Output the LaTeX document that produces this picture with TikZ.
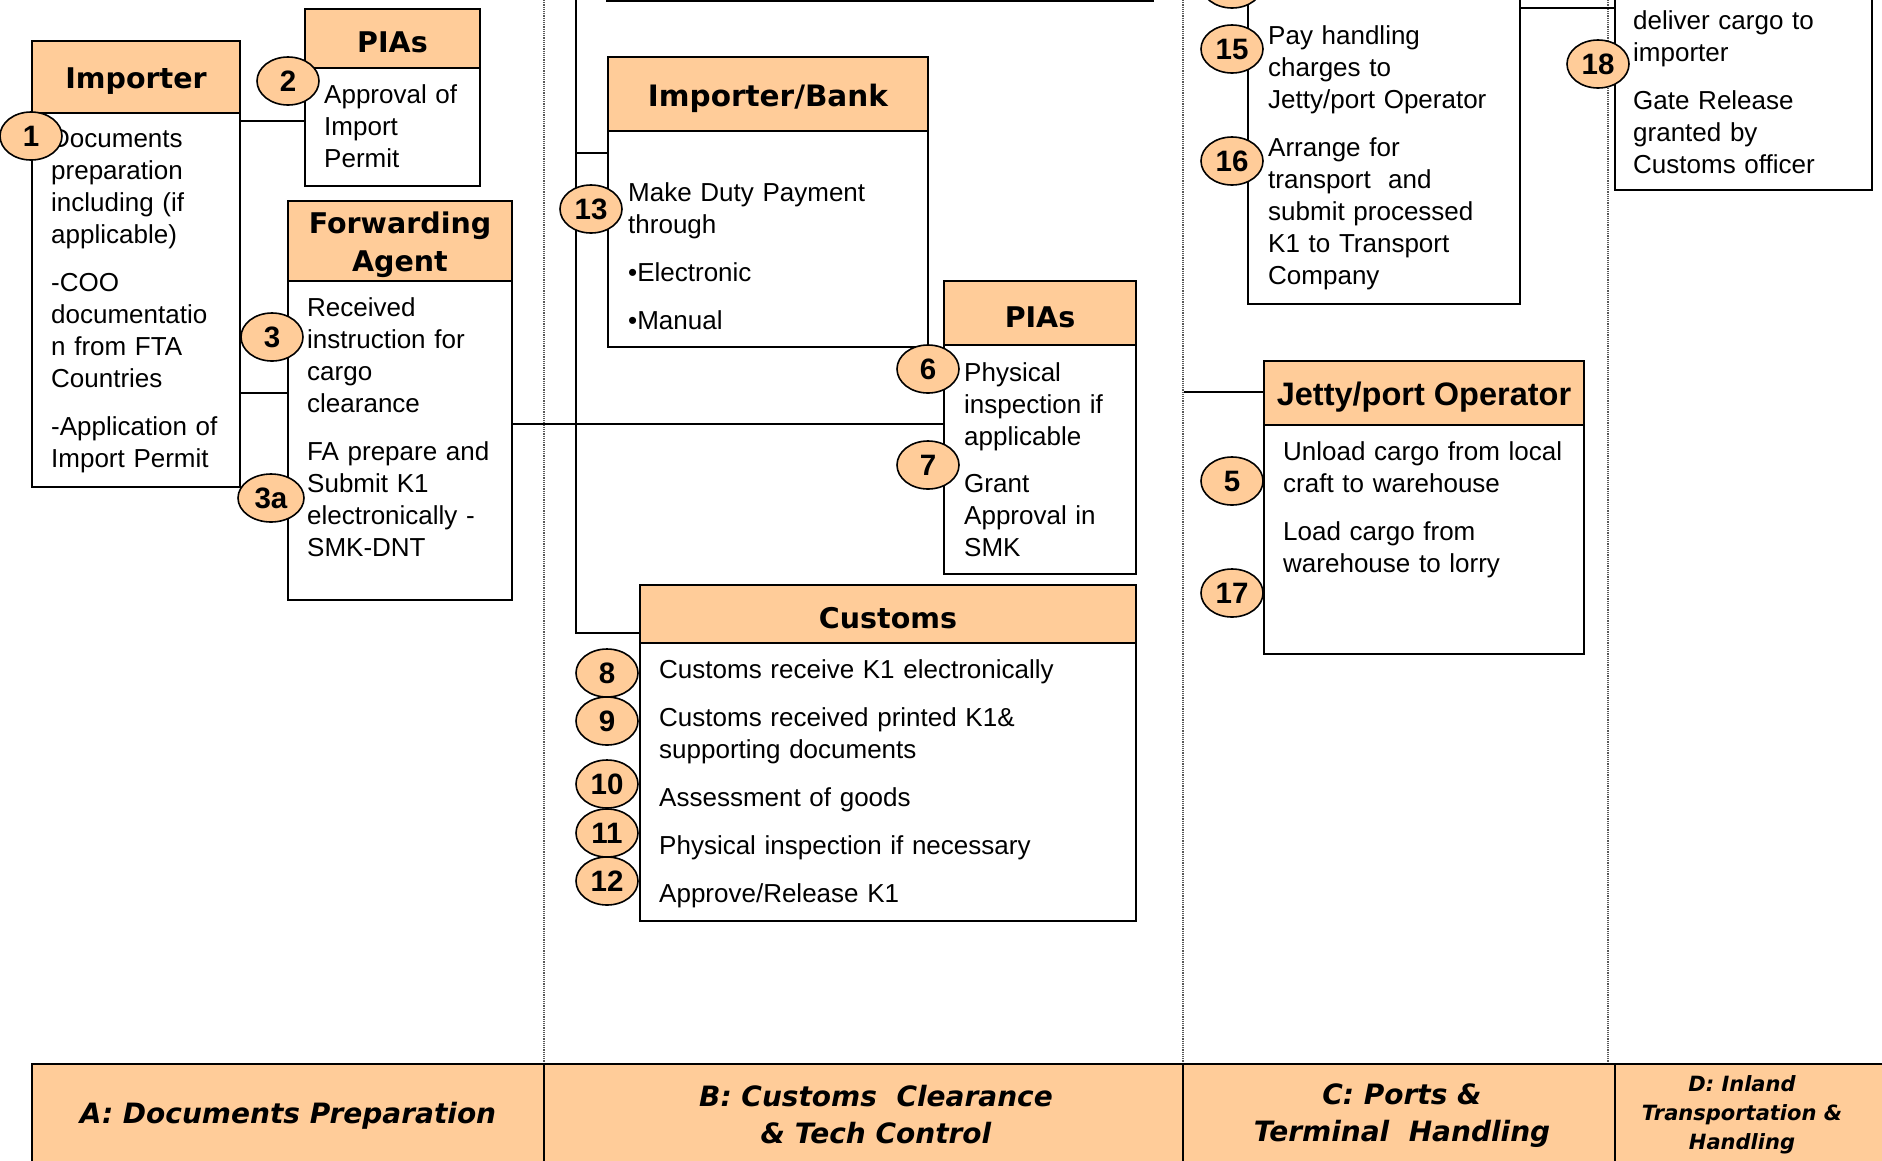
\documentclass[tikz,border=0pt]{standalone}
\usepackage{fontspec}
\setmainfont{Liberation Sans}
\newfontfamily\headfont{DejaVu Sans}
\usepackage{tikz}
\usetikzlibrary{shapes.geometric}
\definecolor{peach}{HTML}{FFCC99}
\tikzset{
	frame/.style={draw=black, line width=2pt, fill=white, anchor=north west, outer sep=0pt, inner sep=0pt},
	head/.style={draw=black, line width=2pt, fill=peach, anchor=north, outer sep=0pt, inner sep=0pt},
	title/.style={align=center, inner sep=0pt, font=\headfont\bfseries\fontsize{28.5}{38}\selectfont},
	note/.style={anchor=base west, inner sep=0pt, align=left, text width=470pt,
		font=\fontsize{26}{32}\selectfont},
	tag/.style={ellipse, draw=black, line width=1.6pt, fill=peach, minimum width=62pt,
		minimum height=48pt, inner sep=0pt, font=\bfseries\fontsize{29.5}{30}\selectfont},
	link/.style={draw=black, line width=1.8pt},
	lane/.style={draw=black!65, line width=1.2pt, densely dotted},
	band/.style={draw=black, line width=1.5pt, fill=peach, anchor=north west, outer sep=0pt,
		minimum height=110pt},
	bandtext/.style={align=center, font=\headfont\bfseries\itshape\fontsize{28}{37}\selectfont}
}
\def\RoleBox#1#2#3#4#5#6#7{%
	\node[frame, minimum width=#4pt, minimum height=#5pt] (#1) at (#2,#3) {};
	\node[head, minimum width=#4pt, minimum height=#6pt] (#1Head) at (#1.north) {};
	\node[title] (#1Title) at ([yshift=-4pt]#1Head.center) {#7};
}
\def\Tag#1#2#3{%
	\node[tag] (tag#1) at (#2,#3) {#1};
}
\begin{document}
\begin{tikzpicture}[x=1pt, y=-1pt]
\useasboundingbox (0,0) rectangle (1882,1160);
\foreach \x in {544,1183,1608}
	\draw[lane] (\x,0) -- (\x,1063);
\coordinate (busTop) at (576,-10);
\coordinate (jettyFeed) at (1184,392);

\node[frame, minimum width=546pt, minimum height=151pt] (cutBox) at (607,-150) {};
\node[frame, minimum width=272pt, minimum height=454pt] (payBox) at (1248,-150) {};
\node[frame, minimum width=257pt, minimum height=340pt] (gateBox) at (1615,-150) {};
\RoleBox{imp}{32}{41}{208}{446}{72}{Importer}
\RoleBox{pia}{305}{9}{175}{177}{59}{PIAs}
\RoleBox{fwd}{288}{201}{224}{399}{80}{Forwarding\\Agent}
\RoleBox{bank}{608}{57}{320}{290}{74}{\fontsize{29.5}{38}\selectfont Importer/Bank}
\RoleBox{piaB}{944}{281}{192}{293}{64}{PIAs}
\RoleBox{cust}{640}{585}{496}{336}{58}{Customs}
\RoleBox{jetty}{1264}{361}{320}{293}{64}{\normalfont\bfseries\fontsize{32.5}{38}\selectfont Jetty/port Operator}

\node[note] (impText) at (51,147) {Documents\\preparation\\including (if\\applicable)\\[16pt]-COO\\documentatio\\n from FTA\\Countries\\[16pt]-Application of\\Import Permit};
\node[note] (piaText) at (324,103) {Approval of\\Import\\Permit};
\node[note] (fwdText) at (307,316) {Received\\instruction for\\cargo\\clearance\\[16pt]FA prepare and\\Submit K1\\electronically -\\SMK-DNT};
\node[note] (bankText) at (628,201) {Make Duty Payment\\through\\[16pt]•Electronic\\[16pt]•Manual};
\node[note] (piaBText) at (964,381) {Physical\\inspection if\\applicable\\[15pt]Grant\\Approval in\\SMK};
\node[note] (custText) at (659,678) {Customs receive K1 electronically\\[16pt]Customs received printed K1\&\\supporting documents\\[16pt]Assessment of goods\\[16pt]Physical inspection if necessary\\[16pt]Approve/Release K1};
\node[note] (payText) at (1268,44) {Pay handling\\charges to\\Jetty/port Operator\\[16pt]Arrange for\\transport\ \ and\\submit processed\\K1 to Transport\\Company};
\node[note] (gateText) at (1633,29) {deliver cargo to\\importer\\[16pt]Gate Release\\granted by\\Customs officer};
\node[note] (jettyText) at (1283,460) {Unload cargo from local\\craft to warehouse\\[16pt]Load cargo from\\warehouse to lorry};

\draw[link] (imp.east |- 0,121) -- (pia.west |- 0,121);
\draw[link] (imp.east |- 0,393) -- (fwd.west |- 0,393);
\draw[link] (fwd.east |- 0,424) -- (piaB.west |- 0,424);
\draw[link] (busTop) |- (cust.west |- 0,633);
\draw[link] (busTop |- 0,153) -- (bank.west |- 0,153);
\draw[link] (jettyFeed) -- (jetty.west |- jettyFeed);
\draw[link] (payBox.east |- 0,8) -- (gateBox.west |- 0,8);

\Tag{1}{31}{136}
\Tag{2}{288}{81}
\Tag{3}{272}{337}
\node[tag, minimum width=66pt] (tag3a) at (271,498) {3a};
\Tag{13}{591}{209}
\Tag{6}{928}{369}
\Tag{7}{928}{465}
\Tag{8}{607}{673}
\Tag{9}{607}{721}
\Tag{10}{607}{784}
\Tag{11}{607}{833}
\Tag{12}{607}{881}
\Tag{14}{1232}{-16}
\Tag{15}{1232}{49}
\Tag{16}{1232}{161}
\Tag{5}{1232}{481}
\Tag{17}{1232}{593}
\Tag{18}{1598}{64}

\node[band, minimum width=512pt] (laneA) at (32,1064) {};
\node[band, minimum width=639pt] (laneB) at (544,1064) {};
\node[band, minimum width=432pt] (laneC) at (1183,1064) {};
\node[band, minimum width=300pt] (laneD) at (1615,1064) {};
\draw[line width=2.5pt] (laneA.north west) -- (laneD.north east);
\node[bandtext] (labelA) at (288,1116) {A: Documents Preparation};
\node[bandtext] (labelB) at (876,1115) {B: Customs\ \ Clearance\\\& Tech Control};
\node[bandtext] (labelC) at (1402,1116) {C: Ports \&\\Terminal\ \ Handling};
\node[bandtext, font=\headfont\bfseries\itshape\fontsize{21}{29}\selectfont] (labelD) at (1742,1115) {D: Inland\\Transportation \&\\Handling};
\end{tikzpicture}
\end{document}
